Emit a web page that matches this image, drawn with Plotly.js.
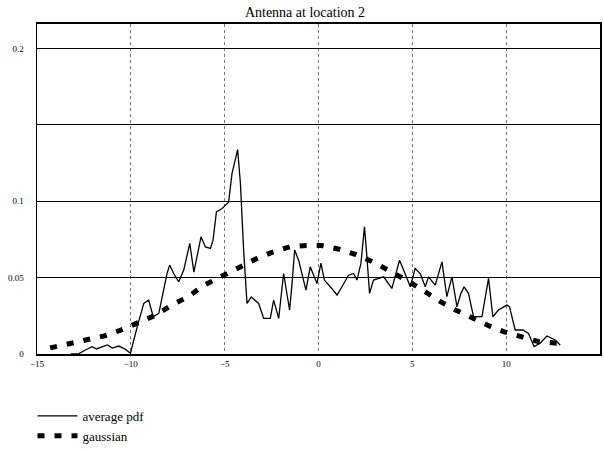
<!DOCTYPE html>
<html>
<head>
<meta charset="utf-8">
<script src="https://cdn.plot.ly/plotly-3.0.1.min.js"></script>
<style>html,body{margin:0;padding:0;background:#fff;}#chart{width:604px;height:451px;}</style>
</head>
<body>
<div id="chart"></div>
<script>
// average pdf (solid line)
const avgX = [-13.2,-12.81,-12.42,-12.06,-11.83,-11.26,-10.98,-10.64,-10.29,-10.02,-9.66,-9.31,-9.05,-8.81,-8.51,-8.33,-8.07,-7.93,-7.72,-7.45,-7.18,-6.86,-6.64,-6.26,-6.03,-5.76,-5.62,-5.44,-5.14,-4.79,-4.61,-4.31,-4.16,-3.99,-3.81,-3.58,-3.19,-2.92,-2.57,-2.39,-2.12,-1.86,-1.68,-1.54,-1.41,-1.27,-1.06,-0.88,-0.67,-0.44,-0.26,-0.08,0.13,0.31,0.63,0.99,1.25,1.60,1.87,2.05,2.26,2.45,2.58,2.72,2.93,3.47,3.91,4.32,4.68,4.89,5.15,5.42,5.69,5.86,6.22,6.58,6.84,7.11,7.38,7.59,7.76,7.99,8.26,8.71,9.06,9.29,9.59,10.04,10.18,10.48,10.89,11.19,11.49,11.81,12.17,12.61,12.88];
const avgY = [0.0,0.0,0.0026,0.0048,0.0033,0.0059,0.0039,0.0052,0.0031,0.0005,0.0178,0.0331,0.0353,0.0244,0.0266,0.0375,0.0527,0.0582,0.0527,0.0473,0.0549,0.0724,0.0536,0.0767,0.0701,0.0691,0.0745,0.0930,0.0952,0.0993,0.1181,0.1338,0.1116,0.0680,0.0331,0.0373,0.0331,0.0233,0.0233,0.0353,0.0233,0.0527,0.0375,0.0288,0.0462,0.0680,0.0614,0.0527,0.0418,0.0571,0.0516,0.0462,0.0595,0.0484,0.0440,0.0386,0.0440,0.0516,0.0527,0.0484,0.0593,0.0832,0.0636,0.0397,0.0484,0.0505,0.0429,0.0614,0.0505,0.0440,0.0560,0.0527,0.0440,0.0505,0.0451,0.0603,0.0375,0.0505,0.0309,0.0397,0.0440,0.0397,0.0244,0.0244,0.0495,0.0244,0.0288,0.0320,0.0309,0.0157,0.0157,0.0135,0.0048,0.0070,0.0118,0.0092,0.0059];

// gaussian (thick dashed line)
const gaussX = [-14.3,-13.2,-12.3,-11.4,-10.5,-9.6,-8.7,-7.85,-6.95,-6.1,-5.05,-4.25,-3.35,-2.45,-1.5,-0.64,0.16,1.1,2.0,2.95,3.77,4.7,5.55,6.45,7.3,8.2,9.1,9.9,10.85,11.7,12.7];
const gaussY = [0.0040,0.0069,0.0095,0.0119,0.0158,0.0210,0.0253,0.0318,0.0375,0.0450,0.0515,0.0567,0.0621,0.0667,0.0703,0.0710,0.0710,0.0686,0.0650,0.0600,0.0547,0.0482,0.0418,0.0346,0.0288,0.0232,0.0184,0.0145,0.0115,0.0082,0.0071];

const xTickVals = [-15,-10,-5,0,5,10,15];
const xTickText = ["\u221215","\u221210","\u22125","0","5","10","15"];
const yTickVals = [0,0.05,0.1,0.15,0.2];
const yTickText = ["0","0.05","0.1","","0.2"];

const serif = "Liberation Serif, Times New Roman, serif";

const traces = [
  {x: avgX, y: avgY, mode: "lines", name: "average pdf",
   line: {color: "#000", width: 1.3}},
  {x: gaussX, y: gaussY, mode: "lines", name: "gaussian",
   line: {color: "#000", width: 5, dash: "7px,10px"}}
];

const layout = {
  width: 604, height: 451,
  margin: {l: 37, r: 4, t: 24, b: 97},
  paper_bgcolor: "#fff", plot_bgcolor: "#fff",
  font: {family: serif, color: "#000", size: 10},
  title: {text: "Antenna at location 2", font: {family: serif, size: 14, color: "#000"},
          x: 0.476, xref: "paper", xanchor: "center", y: 0.985, yanchor: "top"},
  xaxis: {range: [-15, 15], tickmode: "array", tickvals: xTickVals, ticktext: xTickText,
          showgrid: true, gridcolor: "#777", griddash: "dot", gridwidth: 1,
          zeroline: false, showline: true, linecolor: "#000", linewidth: 2, mirror: true,
          ticks: "", tickfont: {family: serif, size: 9, color: "#000"}},
  yaxis: {range: [0, 0.216], tickmode: "array", tickvals: yTickVals, ticktext: yTickText,
          showgrid: true, gridcolor: "#000", gridwidth: 1,
          zeroline: false, showline: true, linecolor: "#000", linewidth: 1.5, mirror: true,
          ticks: "", ticklabelstandoff: 10, tickfont: {family: serif, size: 9, color: "#000"}},
  showlegend: true,
  legend: {x: -0.008, xanchor: "left", yref: "container", y: 0.0, yanchor: "bottom", orientation: "v",
           font: {family: serif, size: 13, color: "#000"}, itemwidth: 40,
           bgcolor: "rgba(0,0,0,0)", tracegroupgap: 0}
};

Plotly.newPlot("chart", traces, layout, {displayModeBar: false, staticPlot: true});
</script>
</body>
</html>
